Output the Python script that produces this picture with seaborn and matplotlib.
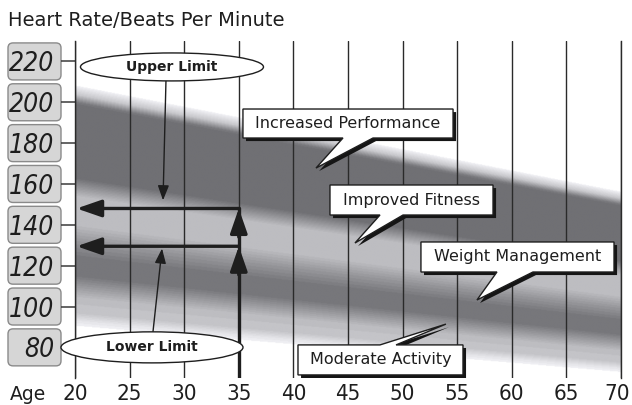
import numpy as np
import matplotlib
matplotlib.use("Agg")
import matplotlib.pyplot as plt
import seaborn as sns
from matplotlib.patches import Ellipse, Polygon, FancyBboxPatch
from matplotlib.transforms import IdentityTransform, ScaledTranslation
import matplotlib.patheffects as pe

# ---------------- data ----------------
ages = [20, 25, 30, 35, 40, 45, 50, 55, 60, 65, 70]
hr_ticks = [80, 100, 120, 140, 160, 180, 200, 220]
max_hr_base = 220
# shading profile: fraction of max heart rate -> gray level (0-255)
zone_pct = [0.44, 0.465, 0.485, 0.52, 0.575, 0.62, 0.66, 0.70, 0.77, 0.815, 0.99, 1.0, 1.02, 1.045, 1.06]
zone_gray = [255, 228, 196, 190, 120, 118, 150, 188, 188, 112, 110, 118, 200, 248, 255]
zone_names = ["Increased Performance", "Improved Fitness", "Weight Management", "Moderate Activity"]
example_age = 35
upper_pct = 0.80
lower_pct = 0.70

# ---------------- layout / style ----------------
W, H = 632, 405
sns.set_theme(style="white")
plt.rcParams["font.family"] = ["DejaVu Sans"]
INK = "#1e1e1e"

fig = plt.figure(figsize=(W / 100, H / 100), dpi=100)
ax = fig.add_axes([75 / W, (H - 378) / H, (621 - 75) / W, (378 - 41) / H])
ax.set_xlim(ages[0], ages[-1])
ax.set_ylim(65, 230)

# ---------------- shaded training zones ----------------
age_grid = np.linspace(ages[0], ages[-1], 700)
hr_grid = np.linspace(65, 230, 500)
A, R = np.meshgrid(age_grid, hr_grid)
pct = R / (max_hr_base - A)
g = np.interp(pct, zone_pct, zone_gray)
g = np.round(g / 7.0) * 7.0
g = np.where(g >= 245, 255.0, g)
b = np.where(g >= 245, 255.0, np.clip(g + 4, 0, 255))
rgb = np.stack([g, g, b], axis=-1) / 255.0
ax.imshow(rgb, extent=[ages[0], ages[-1], 65, 230], origin="lower",
          aspect="auto", interpolation="bilinear", zorder=0)

# grid & spines
ax.set_xticks(ages)
ax.grid(axis="x", color="#2a2a2a", lw=1.0)
ax.grid(axis="y", visible=False)
for s in ["top", "bottom"]:
    ax.spines[s].set_visible(False)
for s in ["left", "right"]:
    ax.spines[s].set_visible(True)
    ax.spines[s].set_color("#2a2a2a")
    ax.spines[s].set_linewidth(1.0)

ax.set_xticklabels([str(a) for a in ages], fontstretch="condensed", fontsize=16, color=INK)
ax.tick_params(axis="x", length=0, pad=4)
last = ax.get_xticklabels()[-1]
last.set_transform(last.get_transform() + ScaledTranslation(-0.04, 0, fig.dpi_scale_trans))
ax.set_yticks(hr_ticks)
ax.set_yticklabels([str(v) for v in hr_ticks], fontstretch="condensed", fontstyle="italic",
                   fontsize=19, color=INK)
ax.tick_params(axis="y", left=True, length=10, width=1.1, color="#3a3a3a", pad=5)

# tick label boxes (positions derived from data transform)
fig.canvas.draw()
for v in hr_ticks:
    yc = ax.transData.transform((ages[0], v))[1]
    box = FancyBboxPatch((8, yc - 18.5), 53, 37, boxstyle="round,pad=0,rounding_size=5",
                         transform=IdentityTransform(), fc="#d6d6d6", ec="#8a8a8a", lw=1.0,
                         zorder=-1)
    fig.add_artist(box)

# ---------------- example limits at age 35 ----------------
max_hr_ex = max_hr_base - example_age
upper_hr = upper_pct * max_hr_ex
lower_hr = lower_pct * max_hr_ex
sns.lineplot(x=[example_age, example_age], y=[ax.get_ylim()[0], upper_hr], estimator=None,
             sort=False, color=INK, lw=2.4, ax=ax, zorder=5)
thick = dict(arrowstyle="-|>,head_length=0.75,head_width=0.26", color=INK, lw=2.4,
             shrinkA=0, shrinkB=0, mutation_scale=20)
for hr in (upper_hr, lower_hr):
    ax.annotate("", xy=(ages[0] + 0.15, hr), xytext=(example_age, hr), arrowprops=thick, zorder=6)
    ax.annotate("", xy=(example_age, hr), xytext=(example_age, hr - 14), arrowprops=thick, zorder=6)

# ---------------- ellipse labels ----------------
thin = dict(arrowstyle="-|>,head_length=0.45,head_width=0.17", color=INK, lw=1.0,
            shrinkA=0, shrinkB=0, mutation_scale=20)
ellipses = [
    ("Upper Limit", (28.88, 217.3), 16.76, 13.7, (28.33, 210.5), (28.06, 152.0)),
    ("Lower Limit", (27.05, 80.0), 16.67, 15.2, (27.14, 87.6), (27.97, 128.4)),
]
for label, c, w, h, start, tip in ellipses:
    ax.annotate("", xy=tip, xytext=start, arrowprops=thin, zorder=6)
    e = Ellipse(c, w, h, fc="white", ec=INK, lw=1.0, zorder=7, clip_on=False)
    ax.add_patch(e)
    ax.text(c[0], c[1], label, ha="center", va="center", fontsize=10, fontweight="bold",
            color=INK, zorder=8)

# ---------------- callout boxes ----------------
callouts = [
    # x0, x1, y0, y1, base_left, base_right, tip, tail on top?
    (35.38, 54.62, 182.5, 196.7, 44.54, 47.29, (42.07, 167.8), False),
    (43.35, 58.28, 144.8, 159.5, 47.93, 50.04, (45.64, 131.1), False),
    (51.68, 69.36, 116.9, 131.6, 58.64, 61.94, (56.81, 103.2), False),
    (40.42, 55.53, 66.5, 81.2, 47.93, 49.40, (53.97, 91.4), True),
]
for name, (x0, x1, y0, y1, bl, br, tip, top) in zip(zone_names, callouts):
    if not top:
        verts = [(x0, y1), (x1, y1), (x1, y0), (br, y0), tip, (bl, y0), (x0, y0)]
    else:
        verts = [(x0, y0), (x1, y0), (x1, y1), (br, y1), tip, (bl, y1), (x0, y1)]
    poly = Polygon(verts, closed=True, fc="white", ec=INK, lw=1.0, zorder=9, clip_on=False,
                   joinstyle="miter")
    poly.set_path_effects([pe.SimplePatchShadow(offset=(2.2, -2.2), shadow_rgbFace="#151515",
                                                alpha=1.0), pe.Normal()])
    ax.add_patch(poly)
    ax.text((x0 + x1) / 2, (y0 + y1) / 2, name, ha="center", va="center", fontsize=11.5,
            color=INK, zorder=10)

# ---------------- titles ----------------
fig.text(8 / W, (H - 21) / H, "Heart Rate/Beats Per Minute", ha="left", va="center",
         fontsize=14, color=INK)
fig.text(10 / W, (H - 394) / H, "Age", ha="left", va="center", fontsize=13.5, color=INK)

fig.savefig("out.png", dpi=100)
